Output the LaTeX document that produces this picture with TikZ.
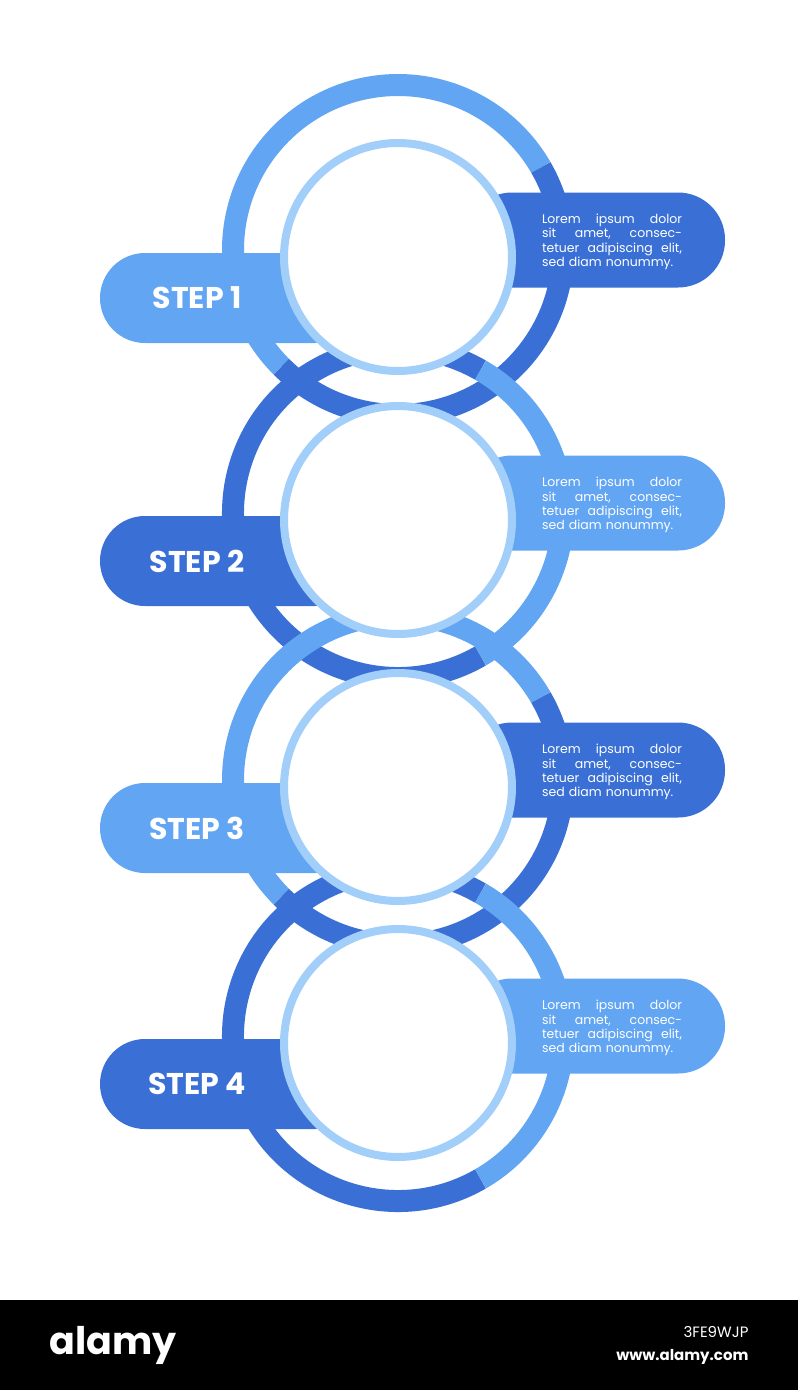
\documentclass[tikz,border=0pt]{standalone}
\usepackage{fontspec}
\setmainfont{Poppins}
\definecolor{darkblue}{HTML}{3A70D6}
\definecolor{lightblue}{HTML}{62A5F2}
\definecolor{paleblue}{HTML}{A2CEFA}
\tikzset{%
  % styles for the step blocks
        ring/.style = {line width=22pt},
     ringbase/.style = {circle, minimum size=330pt, inner sep=0},
     leftpill/.style = {rectangle, rounded corners=45pt, minimum width=260pt,
                        minimum height=90pt, inner sep=0},
    rightpill/.style = {rectangle, rounded corners=47pt, minimum width=260pt,
                        minimum height=95pt, inner sep=0},
       steplabel/.style = {text=white, font=\fontsize{30}{32}\selectfont\bfseries},
       inner/.style = {circle, draw=paleblue, line width=8pt, fill=white,
                       minimum size=228pt, inner sep=0},
       lorem/.style = {text=white, text width=140pt, align=left,
                       font=\fontsize{12.5}{14.3}\selectfont},
}
\newcommand{\jline}[1]{\makebox[140pt][s]{#1}}
\newcommand{\loremtext}{\jline{Lorem\hfill ipsum\hfill dolor}\\
  \jline{sit\hfill amet,\hfill consec-}\\
  \jline{tetuer\hfill adipiscing\hfill elit,}\\ sed diam nonummy.}

\begin{document}
\begin{tikzpicture}[x=1pt, y=-1pt]
  \useasboundingbox (0,0) rectangle (798,1390);
  \fill[white] (0,0) rectangle (798,1390);

  % outer rings
  \foreach \i/\y/\ca/\cb/\sa/\sb/\sc in {1/250/lightblue/darkblue/135/330/495,
                             2/513/darkblue/lightblue/60/300/420,
                             3/780/lightblue/darkblue/135/330/495,
                             4/1036/darkblue/lightblue/60/300/420} {
    \node (ring\i) [ringbase] at (398,\y) {};
    \draw[ring, \ca] (ring\i.center) ++(\sa:165) arc[start angle=\sa, end angle=\sb, radius=165];
    \draw[ring, \cb] (ring\i.center) ++(\sb:165) arc[start angle=\sb, end angle=\sc, radius=165];
  }

  % pills
  \foreach \i/\y/\ca/\cb in {1/250/lightblue/darkblue, 2/513/darkblue/lightblue,
                             3/780/lightblue/darkblue, 4/1036/darkblue/lightblue} {
    \node (left\i)  [leftpill, fill=\ca] at (230,\y+48) {};
    \node (step\i)  [steplabel] at (197,\y+48) {STEP \i};
    \node (right\i) [rightpill, fill=\cb] at (595,\y-10) {};
    \node (text\i)  [lorem] at (612,\y-8) {\loremtext};
  }

  % inner circles
  \foreach \i/\y in {1/250, 2/513, 3/780, 4/1036}
    \node (circ\i) [inner] at (398,\y+7) {};

  % bottom bar
  \fill[black] (0,1300) rectangle (798,1390);
  \node (logo) [text=white, font=\fontsize{38}{38}\selectfont\bfseries, anchor=west] at (46,1345) {alamy};
  \node (code) [text=white, font=\fontsize{15}{15}\selectfont, anchor=east] at (752,1332) {3FE9WJP};
  \node (web)  [text=white, font=\fontsize{15}{15}\selectfont\bfseries, anchor=east] at (752,1357) {www.alamy.com};
\end{tikzpicture}
\end{document}
